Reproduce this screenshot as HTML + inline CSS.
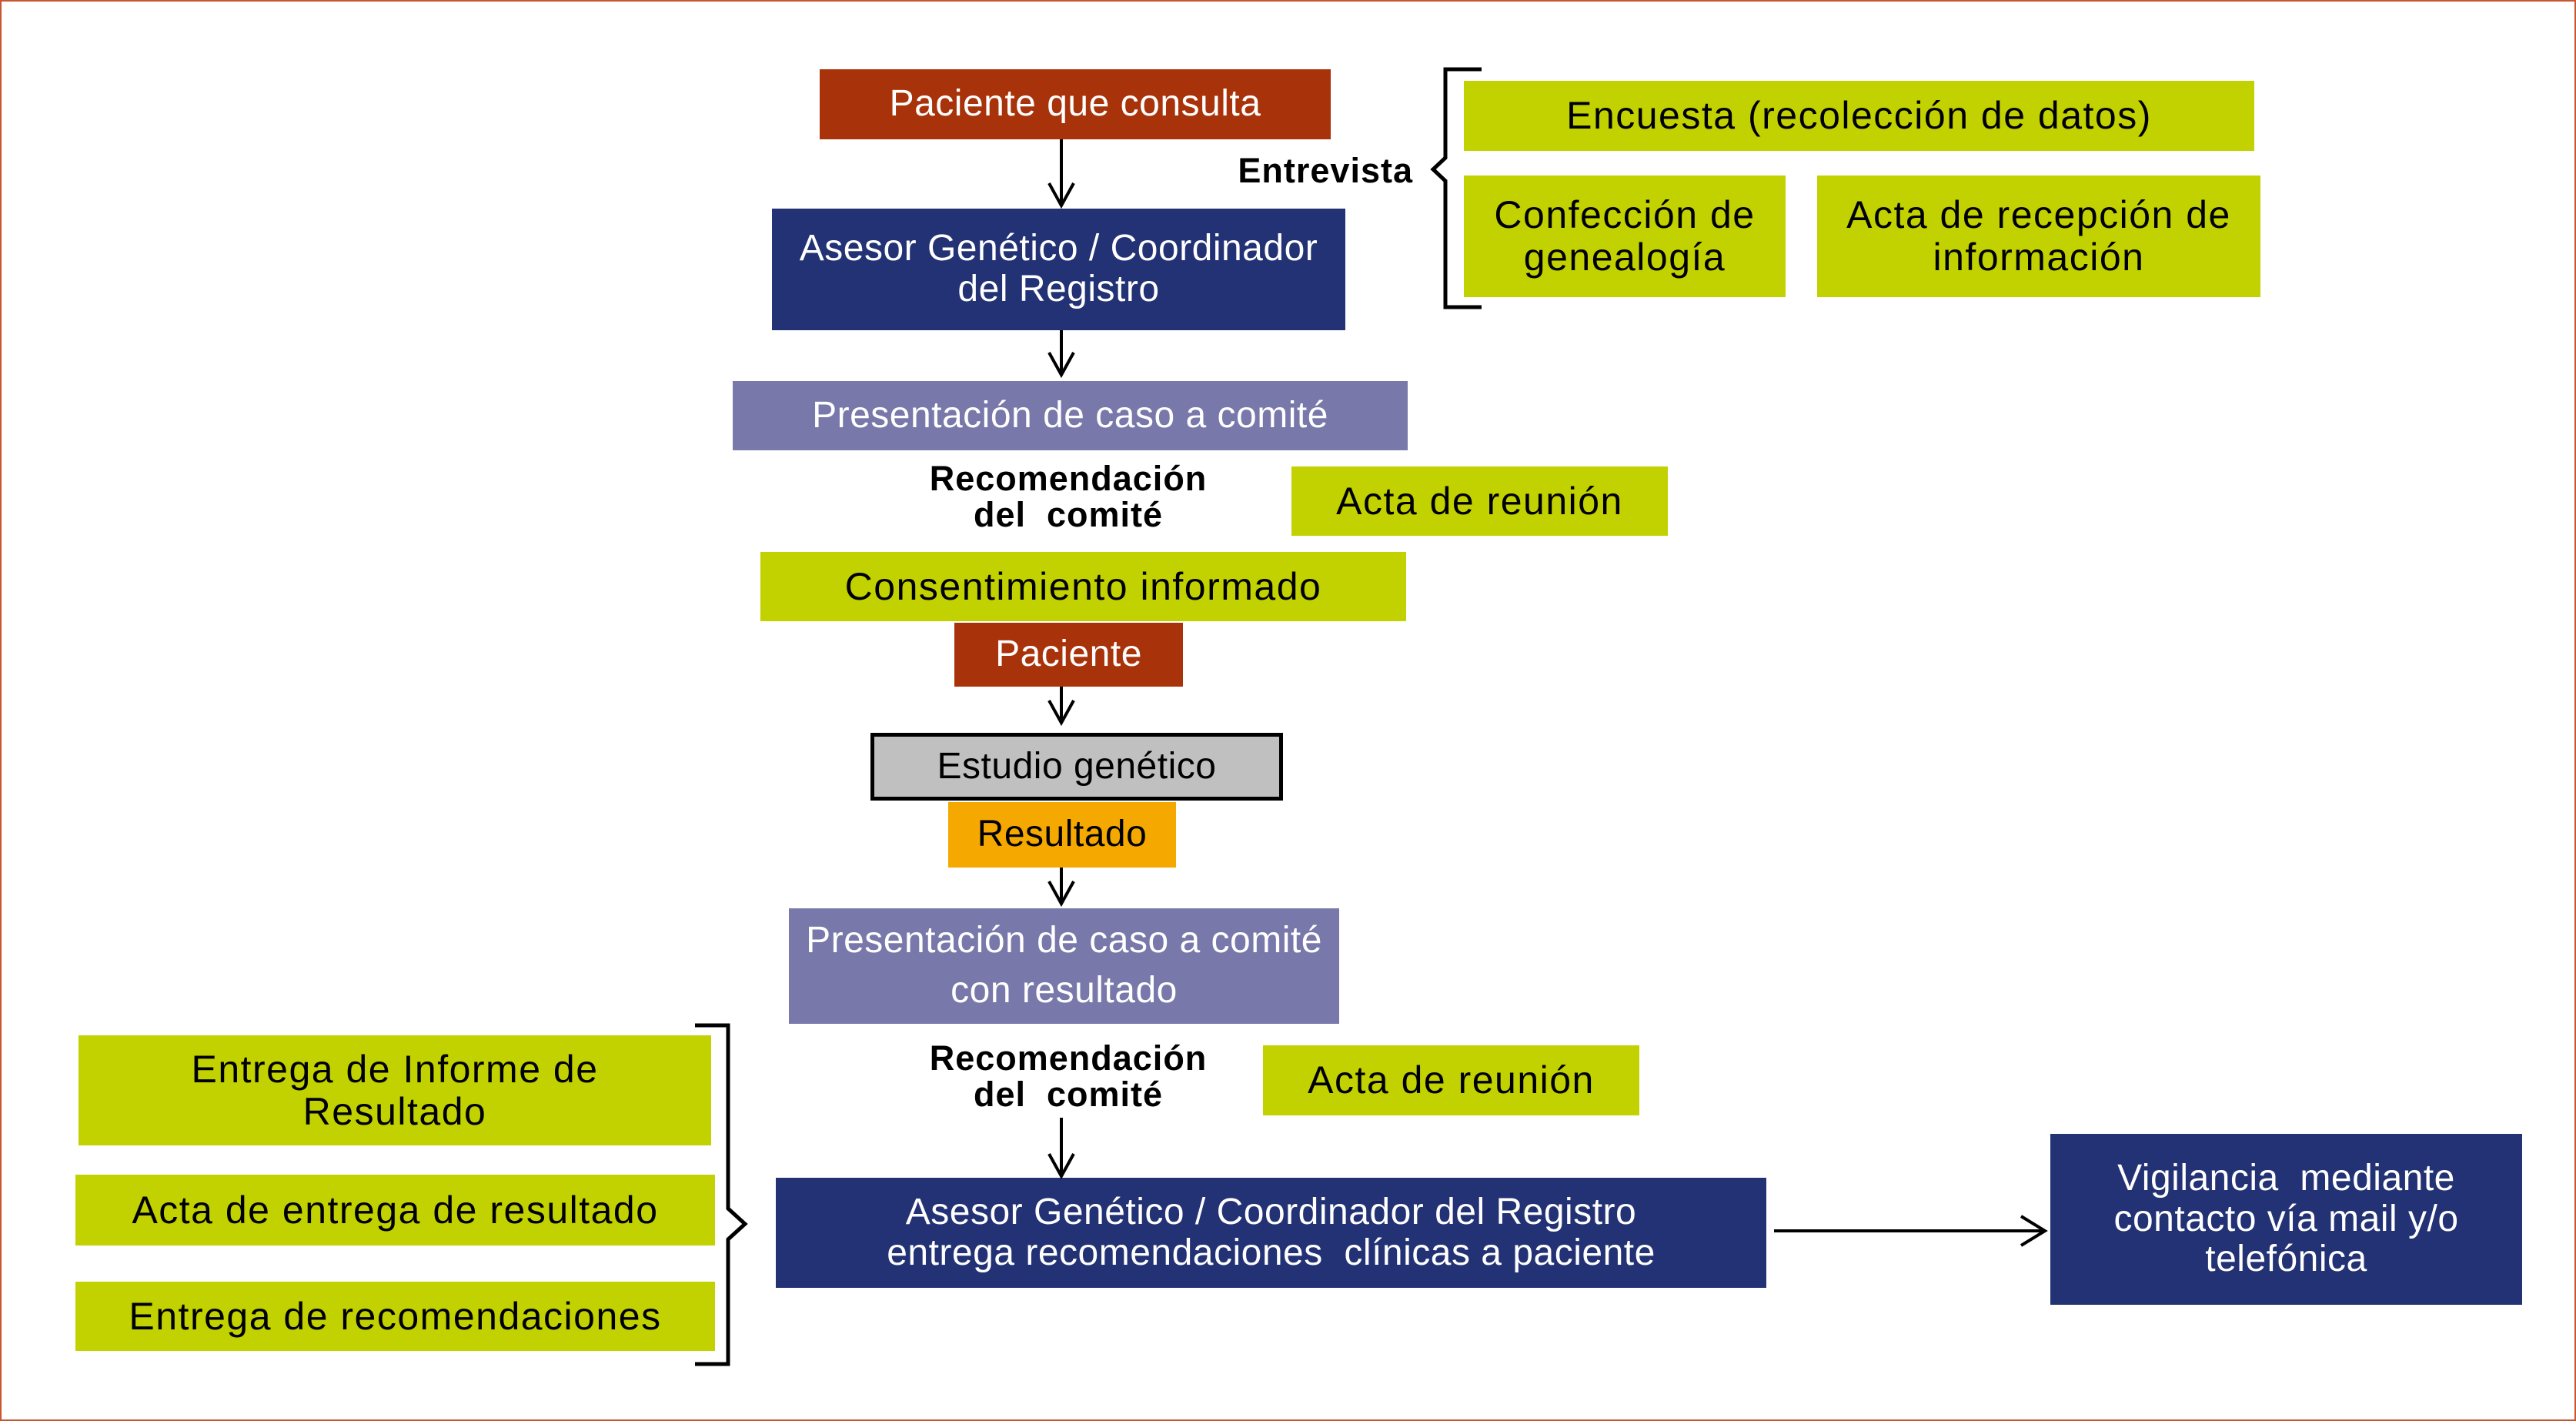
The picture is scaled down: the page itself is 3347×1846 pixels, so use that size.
<!DOCTYPE html>
<html><head><meta charset="utf-8"><style>
body{margin:0;width:3347px;height:1846px;position:relative;background:#fff;font-family:"Liberation Sans",sans-serif;overflow:hidden}
.frame{position:absolute;left:0;top:0;width:3343px;height:1842px;border:2px solid #c8552e}
.b{position:absolute;display:flex;align-items:center;justify-content:center;text-align:center;font-size:48px;letter-spacing:0.5px;line-height:1.1;box-sizing:border-box;white-space:nowrap}
.red{background:#a8320a;color:#fff}
.navy{background:#233274;color:#fff}
.lav{background:#7878aa;color:#fff}
.grn{background:#c2d100;color:#000;font-size:50px;letter-spacing:1.5px}
.t{position:absolute;font-weight:bold;font-size:45px;text-align:center;line-height:1.05;color:#000;letter-spacing:1px}
svg{position:absolute;left:0;top:0}
</style></head><body>
<div class="frame"></div>
<div class="b red" style="left:1065px;top:90px;width:664px;height:91px">Paciente que consulta</div>
<div class="b navy" style="left:1003px;top:271px;width:745px;height:158px">Asesor Genético / Coordinador<br>del Registro</div>
<div class="b lav" style="left:952px;top:495px;width:877px;height:90px">Presentación de caso a comité</div>
<div class="t" style="left:1150px;top:598px;width:476px">Recomendación<br>del&nbsp; comité</div>
<div class="b grn" style="left:1678px;top:606px;width:489px;height:90px">Acta de reunión</div>
<div class="b grn" style="left:988px;top:717px;width:839px;height:90px">Consentimiento informado</div>
<div class="b red" style="left:1240px;top:809px;width:297px;height:83px">Paciente</div>
<div class="b" style="left:1131px;top:952px;width:536px;height:88px;background:#c0c0c0;border:5px solid #000">Estudio genético</div>
<div class="b" style="left:1232px;top:1042px;width:296px;height:85px;background:#f5a800">Resultado</div>
<div class="b lav" style="left:1025px;top:1180px;width:715px;height:150px;line-height:1.35">Presentación de caso a comité<br>con resultado</div>
<div class="t" style="left:1150px;top:1351px;width:476px">Recomendación<br>del&nbsp; comité</div>
<div class="b grn" style="left:1641px;top:1358px;width:489px;height:91px">Acta de reunión</div>
<div class="b navy" style="left:1008px;top:1530px;width:1287px;height:143px">Asesor Genético / Coordinador del Registro<br>entrega recomendaciones&nbsp; clínicas a paciente</div>
<div class="b navy" style="left:2664px;top:1473px;width:613px;height:222px">Vigilancia&nbsp; mediante<br>contacto vía mail y/o<br>telefónica</div>
<div class="b grn" style="left:102px;top:1345px;width:822px;height:143px">Entrega de Informe de<br>Resultado</div>
<div class="b grn" style="left:98px;top:1526px;width:831px;height:92px">Acta de entrega de resultado</div>
<div class="b grn" style="left:98px;top:1665px;width:831px;height:90px">Entrega de recomendaciones</div>
<div class="t" style="left:1500px;top:198px;width:336px;text-align:right">Entrevista</div>
<div class="b grn" style="left:1902px;top:105px;width:1027px;height:91px">Encuesta (recolección de datos)</div>
<div class="b grn" style="left:1902px;top:228px;width:418px;height:158px">Confección de<br>genealogía</div>
<div class="b grn" style="left:2361px;top:228px;width:576px;height:158px">Acta de recepción de<br>información</div>
<svg width="3347" height="1846" fill="none" stroke="#000">
<g stroke-width="4">
<path d="M1379 181V265M1363 238L1379 267L1395 238"/>
<path d="M1379 429V485M1363 458L1379 487L1395 458"/>
<path d="M1379 892V937M1363 910L1379 939L1395 910"/>
<path d="M1379 1127V1172M1363 1145L1379 1174L1395 1145"/>
<path d="M1379 1452V1526M1363 1499L1379 1528L1395 1499"/>
<path d="M2305 1599H2655M2626 1580L2657 1599L2626 1618"/>
</g>
<path d="M1925 90H1878V205L1862 220L1878 235V399H1925" stroke-width="5"/>
<path d="M903 1332H946V1570L968 1590L946 1610V1772H903" stroke-width="5"/>
</svg>
</body></html>
